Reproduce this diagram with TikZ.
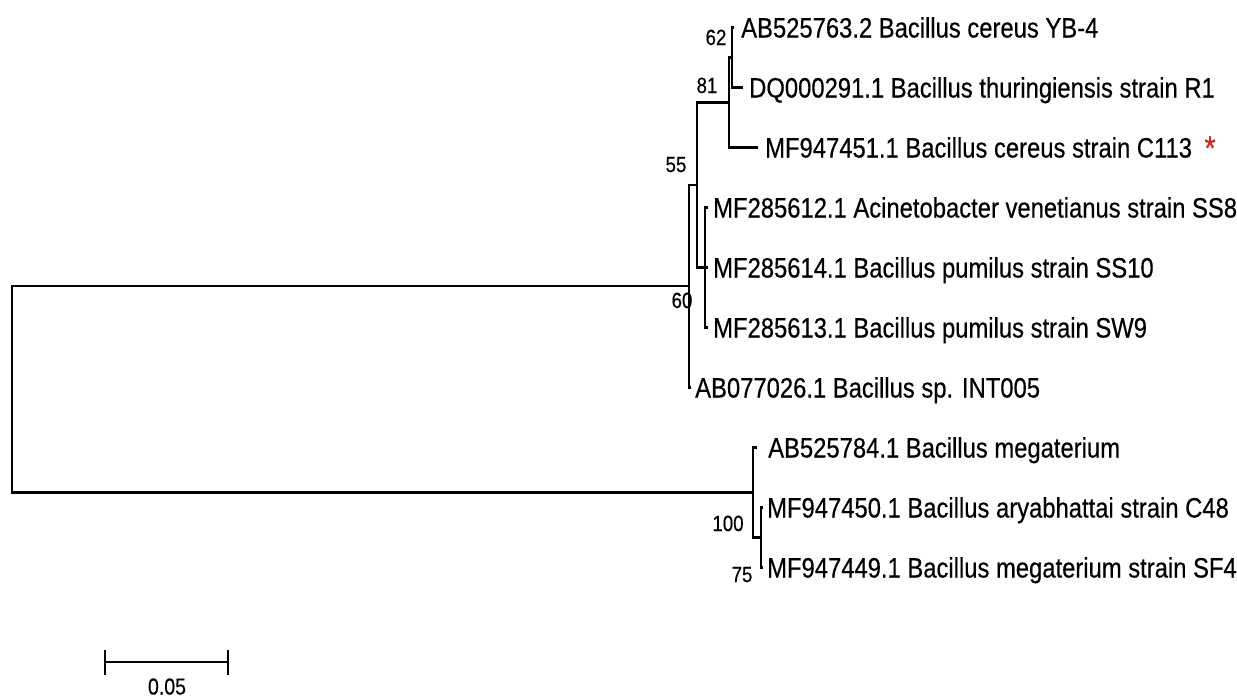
\documentclass[tikz,border=0pt]{standalone}
\usepackage{fontspec}
\setmainfont{Liberation Sans}[FakeStretch=0.85,FakeBold=0.4]
\definecolor{starred}{HTML}{C62828}
\begin{document}
\begin{tikzpicture}[x=1pt,y=-1pt,
  br/.style={line width=2.2pt},
  leaf/.style={anchor=west, inner sep=0pt, text height=20pt, text depth=0pt, font=\fontsize{28}{30}\selectfont},
  boot/.style={anchor=center, inner sep=0pt, text height=16pt, text depth=0pt, font=\fontsize{22}{24}\selectfont},
  scalelab/.style={anchor=center, inner sep=0pt, text height=17pt, text depth=0pt, font=\fontsize{23}{25}\selectfont}
]
\useasboundingbox (0,0) rectangle (1237,696);
% internal nodes
\coordinate (root) at (12,389.4);
\coordinate (n60) at (689,286.25);
\coordinate (n55) at (697,185);
\coordinate (n81) at (729,102.5);
\coordinate (n62) at (732,57.5);
\coordinate (nMF) at (705,267.5);
\coordinate (n100) at (753,492.5);
\coordinate (n75) at (761,537.5);
% tips
\coordinate (t1) at (734,27.5);
\coordinate (t2) at (743,87.5);
\coordinate (t3) at (758,147.5);
\coordinate (t4) at (708,207.5);
\coordinate (t5) at (708,267.5);
\coordinate (t6) at (708,327.5);
\coordinate (t7) at (691,387.5);
\coordinate (t8) at (757,447.5);
\coordinate (t9) at (763,507.5);
\coordinate (t10) at (763,567.5);
% labels
\node[leaf] (l1) at (741,27.5) {AB525763.2 Bacillus cereus YB-4};
\node[leaf] (l2) at (749,87.5) {DQ000291.1 Bacillus thuringiensis strain R1};
\node[leaf] (l3) at (765,147.5) {MF947451.1 Bacillus cereus strain C113};
\node[leaf] (l4) at (713,207.5) {MF285612.1 Acinetobacter venetianus strain SS8};
\node[leaf] (l5) at (713,267.5) {MF285614.1 Bacillus pumilus strain SS10};
\node[leaf] (l6) at (713,327.5) {MF285613.1 Bacillus pumilus strain SW9};
\node[leaf] (l7) at (695,387.5) {AB077026.1 Bacillus sp. INT005};
\node[leaf] (l8) at (768,447.5) {AB525784.1 Bacillus megaterium};
\node[leaf] (l9) at (767,507.5) {MF947450.1 Bacillus aryabhattai strain C48};
\node[leaf] (l10) at (767,567.5) {MF947449.1 Bacillus megaterium strain SF4};
\node[anchor=center, inner sep=0pt, text=starred, font=\fontsize{34}{36}\selectfont] (star) at (1210,148) {*};
% bootstrap values
\node[boot] (b62) at (716,37) {62};
\node[boot] (b81) at (707,85) {81};
\node[boot] (b55) at (676,164) {55};
\node[boot] (b60) at (682,300) {60};
\node[boot] (b100) at (728,523) {100};
\node[boot] (b75) at (742,574) {75};
% branches
\draw[br] (root) |- (n60);
\draw[br] (root) |- (n100);
\draw[br] (n60) |- (n55);
\draw[br] (n60) |- (t7);
\draw[br] (n55) |- (n81);
\draw[br] (n55) |- (nMF);
\draw[br] (n81) |- (n62);
\draw[br] (n81) |- (t3);
\draw[br] (n62) |- (t1);
\draw[br] (n62) |- (t2);
\draw[br] (nMF) |- (t4);
\draw[br] (nMF) |- (t5);
\draw[br] (nMF) |- (t6);
\draw[br] (n100) |- (t8);
\draw[br] (n100) |- (n75);
\draw[br] (n75) |- (t9);
\draw[br] (n75) |- (t10);
% scale bar
\coordinate (sbL) at (105,662);
\coordinate (sbR) at (228,662);
\draw[br] (sbL) -- (sbR);
\draw[br] ([yshift=-13pt]sbL) -- ([yshift=12pt]sbL);
\draw[br] ([yshift=-13pt]sbR) -- ([yshift=12pt]sbR);
\node[scalelab] (sblab) at (167,686) {0.05};
\end{tikzpicture}
\end{document}
